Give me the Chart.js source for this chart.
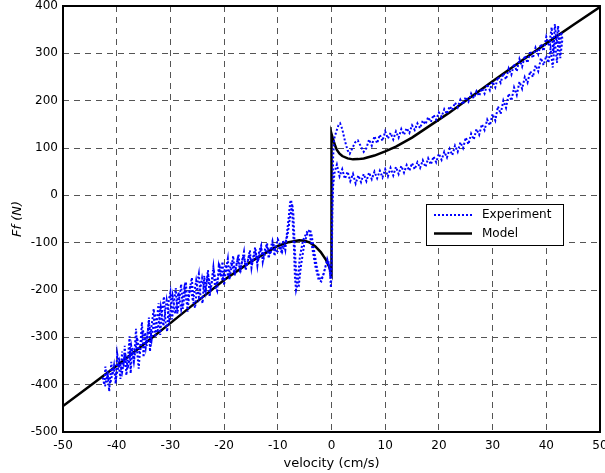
<!DOCTYPE html>
<html>
<head>
<meta charset="utf-8">
<script src="https://cdn.jsdelivr.net/npm/chart.js@4"></script>
<style>
  html, body { margin: 0; padding: 0; background: #fff; }
</style>
</head>
<body>
<canvas id="chart" width="605" height="473"></canvas>
<script>
// Model curve
const modelVel = [-50, -45, -40, -35, -30, -25, -20, -15, -12, -10, -8, -6, -5, -4, -3, -2, -1, -0.4, 0,
  0, 0.3, 0.7, 1, 1.5, 2, 3, 4, 5, 6, 8, 10, 12, 15, 20, 22, 25, 30, 35, 40, 45, 50];
const modelForce = [-445, -403, -360, -315, -270, -224, -179, -140, -120, -107, -99, -95, -96, -100, -108, -120, -137, -152, -165,
  130, 118, 104, 96, 88, 83, 78, 76, 76.5, 78, 84, 93, 103, 122, 160, 175, 200, 241, 281, 321, 360, 398];

// Experiment, negative velocity band, first pass (-42.6 .. -10)
const negVel = [-42.6, -42.3, -42.1, -41.8, -41.7, -41.4, -41.0, -40.8, -40.5, -40.2, -39.9, -39.7, -39.3, -39.0,
  -38.7, -38.5, -38.2, -37.9, -37.6, -37.4, -37.1, -36.8, -36.4, -36.2, -35.9, -35.5, -35.3, -35.0, -34.7, -34.4,
  -34.0, -33.8, -33.5, -33.1, -32.8, -32.5, -32.2, -31.9, -31.6, -31.2, -30.9, -30.6, -30.3, -30.0, -29.7, -29.4,
  -29.0, -28.7, -28.3, -28.0, -27.7, -27.3, -27.1, -26.8, -26.4, -26.0, -25.7, -25.4, -25.0, -24.7, -24.4, -24.0,
  -23.7, -23.4, -23.0, -22.7, -22.3, -22.0, -21.7, -21.3, -21.0, -20.6, -20.3, -20.0, -19.7, -19.3, -19.0, -18.6,
  -18.3, -18.0, -17.6, -17.3, -17.0, -16.6, -16.3, -16.0, -15.6, -15.2, -14.9, -14.5, -14.2, -13.8, -13.5, -13.1,
  -12.8, -12.4, -12.0, -11.7, -11.3, -11.0, -10.6, -10.3, -10.0];
const negForce = [-385, -400, -362, -395, -372, -414, -352, -380, -360, -398, -335, -350, -388, -330,
  -362, -318, -380, -345, -298, -376, -322, -350, -282, -330, -366, -300, -268, -342, -290, -318,
  -258, -330, -275, -240, -300, -262, -228, -295, -250, -214, -268, -288, -222, -205, -262, -232,
  -196, -250, -215, -188, -240, -205, -183, -246, -198, -174, -226, -238, -185, -166, -212, -228,
  -170, -200, -158, -214, -180, -152, -192, -202, -150, -172, -140, -190, -160, -134, -178, -150,
  -128, -170, -142, -125, -165, -135, -119, -158, -140, -116, -153, -125, -110, -148, -120, -106,
  -140, -115, -101, -133, -110, -97, -128, -105, -93];

// Experiment, oscillations near zero (first pass)
const oscVel = [-9.7, -9.3, -9.0, -8.6, -8.3, -8.0, -7.7, -7.5, -7.3, -7.0, -6.8, -6.6, -6.3, -5.9, -5.3, -4.6,
  -4.1, -3.6, -3.0, -2.4, -1.9, -1.4, -1.0, -0.6, -0.3, -0.1];
const oscForce = [-100, -122, -95, -115, -80, -50, -15, -10, -40, -110, -175, -200, -185, -130, -95, -78,
  -82, -110, -150, -178, -182, -162, -145, -138, -160, -195];

// Experiment, stick-slip jump and upper branch
const upperVel = [0.1, 0.2, 0.3, 0.5, 0.9, 1.3, 1.6, 2.0, 2.5, 3.0, 3.4, 3.9, 4.4, 4.9, 5.4, 6.0, 6.5,
  7.0, 7.5, 8.0, 8.5, 9.0, 9.5, 10.0, 10.5, 11.0, 11.5, 12.0, 12.5, 13.0, 13.5, 14.0, 14.5, 15.0, 15.5,
  16.0, 16.5, 17.0, 17.5, 18.0, 18.5, 19.0, 19.5, 20.0, 20.5, 21.0, 21.5, 22.0, 22.5, 23.0, 23.5, 24.0,
  24.5, 25.0, 25.5, 26.0, 26.5, 27.0, 27.5, 28.0, 28.5, 29.0, 29.5, 30.0, 30.5, 31.0, 31.5, 32.0, 32.5,
  33.0, 33.5, 34.0, 34.5, 35.0, 35.5, 36.0, 36.5, 37.0, 37.5, 38.0, 38.5, 39.0, 39.5, 40.0, 40.5, 41.0,
  41.3, 41.6, 41.9, 42.2, 42.5, 42.8, 43.0];
const upperForce = [-100, 0, 80, 120, 135, 148, 152, 140, 115, 95, 88, 100, 112, 116, 105, 92, 100,
  118, 105, 125, 110, 128, 115, 135, 120, 132, 118, 135, 122, 140, 128, 142, 132, 148, 138,
  152, 142, 158, 150, 165, 155, 170, 160, 175, 166, 182, 172, 188, 180, 196, 186, 202,
  192, 208, 198, 215, 205, 220, 210, 226, 215, 235, 222, 240, 228, 250, 238, 258, 245,
  268, 255, 278, 262, 288, 272, 295, 280, 305, 290, 312, 298, 320, 305, 335, 315, 355,
  300, 362, 320, 358, 310, 345, 330];

// Experiment, lower branch returning to zero
const lowerVel = [42.6, 42.3, 42.0, 41.6, 41.2, 40.8, 40.4, 40.0, 39.5, 39.0, 38.5, 38.0, 37.5, 37.0, 36.5,
  36.0, 35.5, 35.0, 34.5, 34.0, 33.5, 33.0, 32.5, 32.0, 31.5, 31.0, 30.5, 30.0, 29.5, 29.0, 28.5, 28.0,
  27.5, 27.0, 26.5, 26.0, 25.5, 25.0, 24.5, 24.0, 23.5, 23.0, 22.5, 22.0, 21.5, 21.0, 20.5, 20.0, 19.5,
  19.0, 18.5, 18.0, 17.5, 17.0, 16.5, 16.0, 15.5, 15.0, 14.5, 14.0, 13.5, 13.0, 12.5, 12.0, 11.5, 11.0,
  10.5, 10.0, 9.5, 9.0, 8.5, 8.0, 7.5, 7.0, 6.5, 6.0, 5.5, 5.0, 4.5, 4.0, 3.5, 3.0, 2.5, 2.0, 1.5, 1.0,
  0.6, 0.3, 0.1, 0.0, -0.2];
const lowerForce = [290, 340, 280, 325, 270, 310, 280, 295, 275, 290, 262, 275, 250, 262, 238,
  250, 225, 240, 212, 228, 200, 215, 185, 200, 172, 188, 158, 172, 148, 160, 138, 150,
  128, 140, 118, 130, 108, 122, 100, 112, 92, 105, 85, 98, 80, 92, 75, 88, 70,
  82, 65, 78, 60, 74, 58, 70, 55, 68, 52, 64, 48, 62, 45, 60, 42, 58,
  40, 55, 38, 52, 36, 50, 34, 48, 30, 45, 28, 42, 25, 45, 30, 50, 35, 55, 40, 65,
  50, 20, -60, -150, -175];

// Experiment, oscillations near zero (return pass)
const backVel = [-0.4, -0.8, -1.2, -1.6, -2.1, -2.6, -3.2, -3.7, -4.0, -4.5, -5.1, -5.7, -6.1, -6.4, -6.8,
  -7.1, -7.3, -7.7, -8.2, -8.7, -9.2, -9.6, -10.0];
const backForce = [-150, -135, -155, -172, -178, -160, -120, -85, -72, -80, -105, -150, -192, -195, -120,
  -40, -18, -45, -85, -105, -120, -108, -118];

// Experiment, negative velocity band, return pass (-10 .. -42.2)
const negBackVel = [-10.4, -10.9, -11.4, -12.0, -12.6, -13.1, -13.7, -14.2, -14.8, -15.3, -15.9, -16.4, -17.0,
  -17.5, -18.1, -18.6, -19.2, -19.7, -20.3, -20.8, -21.4, -21.9, -22.5, -23.0, -23.6, -24.1, -24.7, -25.2,
  -25.8, -26.3, -26.9, -27.4, -28.0, -28.5, -29.1, -29.6, -30.2, -30.7, -31.3, -31.8, -32.4, -32.9, -33.5,
  -34.0, -34.6, -35.1, -35.7, -36.2, -36.8, -37.3, -37.9, -38.4, -39.0, -39.5, -40.1, -40.6, -41.2, -41.7, -42.2];
const negBackForce = [-118, -100, -125, -108, -132, -112, -140, -120, -146, -126, -150, -128, -158,
  -135, -165, -140, -172, -146, -180, -152, -190, -160, -198, -166, -206, -175, -215, -180,
  -224, -190, -232, -196, -240, -205, -250, -212, -262, -222, -276, -236, -290, -250, -305,
  -268, -322, -285, -336, -300, -352, -318, -366, -335, -374, -350, -385, -365, -398, -378, -405];

const xTicks = { min: -50, max: 50, step: 10 };
const yTicks = { min: -500, max: 400, step: 100 };

function toPoints(xs, ys) {
    return xs.map((x, i) => ({ x: x, y: ys[i] }));
}

const expPoints = [].concat(
    toPoints(negVel, negForce),
    toPoints(oscVel, oscForce),
    toPoints(upperVel, upperForce),
    toPoints(lowerVel, lowerForce),
    toPoints(backVel, backForce),
    toPoints(negBackVel, negBackForce)
);

const FONT = 'DejaVu Sans';

// box around the plot, like matlab's "box on"
const framePlugin = {
    id: 'frame',
    afterDatasetsDraw(chart) {
        const { ctx, chartArea: a } = chart;
        ctx.save();
        ctx.strokeStyle = '#000';
        ctx.lineWidth = 2;
        ctx.setLineDash([]);
        ctx.strokeRect(a.left, a.top, a.right - a.left, a.bottom - a.top);
        ctx.restore();
    }
};

// legend box placed inside the axes
const legendBoxPlugin = {
    id: 'legendBox',
    afterDraw(chart) {
        const ctx = chart.ctx;
        const bx = 426, by = 204, bw = 137, bh = 41;
        ctx.save();
        ctx.fillStyle = '#fff';
        ctx.fillRect(bx, by, bw, bh);
        ctx.strokeStyle = '#000';
        ctx.lineWidth = 1;
        ctx.strokeRect(bx + 0.5, by + 0.5, bw, bh);
        chart.data.datasets.forEach((ds, i) => {
            const y = by + 11 + i * 18.5;
            ctx.strokeStyle = ds.borderColor;
            ctx.lineWidth = ds.borderWidth;
            ctx.setLineDash(ds.borderDash || []);
            ctx.beginPath();
            ctx.moveTo(434, y);
            ctx.lineTo(472, y);
            ctx.stroke();
            ctx.setLineDash([]);
            ctx.fillStyle = '#000';
            ctx.font = '12px "' + FONT + '"';
            ctx.textBaseline = 'middle';
            ctx.fillText(ds.label, 482, y);
        });
        ctx.restore();
    }
};

const ctx = document.getElementById('chart').getContext('2d');
new Chart(ctx, {
    type: 'scatter',
    data: {
        datasets: [
            {
                label: 'Experiment',
                data: expPoints,
                showLine: true,
                borderColor: '#0000ff',
                borderWidth: 2,
                borderDash: [2, 2],
                pointRadius: 0,
                tension: 0
            },
            {
                label: 'Model',
                data: toPoints(modelVel, modelForce),
                showLine: true,
                borderColor: '#000',
                borderWidth: 2.5,
                pointRadius: 0,
                tension: 0
            }
        ]
    },
    options: {
        responsive: false,
        animation: false,
        layout: { padding: { top: 6, right: 5, left: 0, bottom: 0 } },
        plugins: {
            legend: { display: false },
            tooltip: { enabled: false }
        },
        scales: {
            x: {
                type: 'linear',
                min: xTicks.min, max: xTicks.max,
                ticks: { stepSize: xTicks.step, color: '#000', padding: 7, font: { family: FONT, size: 12 } },
                grid: { color: '#555', lineWidth: 1, drawTicks: false },
                border: { display: false, dash: [6, 5] },
                title: { display: true, text: 'velocity (cm/s)', color: '#000', padding: { top: 0, bottom: 2 }, font: { family: FONT, size: 13 } },
                afterFit(scale) {
                    scale.height = 41;
                    scale.paddingLeft = 0;
                    scale.paddingRight = 0;
                }
            },
            y: {
                type: 'linear',
                min: yTicks.min, max: yTicks.max,
                ticks: { stepSize: yTicks.step, color: '#000', padding: 5, font: { family: FONT, size: 12 } },
                grid: { color: '#555', lineWidth: 1, drawTicks: false },
                border: { display: false, dash: [6, 5] },
                title: { display: true, text: 'Ff (N)', color: '#000', padding: { top: 10, bottom: 0 }, font: { family: FONT, size: 13, style: 'italic' } },
                afterFit(scale) {
                    scale.width = 63;
                    scale.paddingTop = 0;
                    scale.paddingBottom = 0;
                }
            }
        }
    },
    plugins: [framePlugin, legendBoxPlugin]
});
</script>
</body>
</html>
